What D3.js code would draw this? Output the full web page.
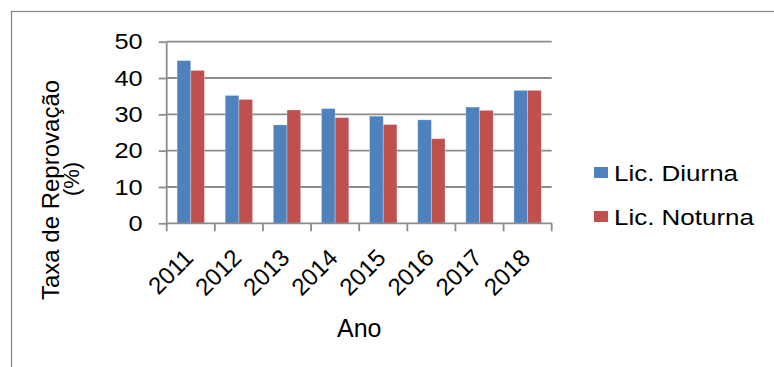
<!DOCTYPE html>
<html>
<head>
<meta charset="utf-8">
<script src="https://cdn.jsdelivr.net/npm/d3@7/dist/d3.min.js"></script>
<style>
  body { margin: 0; background: #fff; }
  svg { display: block; font-family: "Liberation Sans", Arial, sans-serif; }
</style>
</head>
<body>
<svg id="chart" width="774" height="367"></svg>
<script>
// data
const years = ["2011", "2012", "2013", "2014", "2015", "2016", "2017", "2018"];
const diurna = [44.8, 35.2, 27.1, 31.6, 29.5, 28.5, 32.0, 36.6];
const noturna = [42.1, 34.1, 31.2, 29.1, 27.2, 23.3, 31.1, 36.6];
const seriesNames = ["Lic. Diurna", "Lic. Noturna"];
const seriesColors = ["#4f81bd", "#c0504d"];
const yTicks = [0, 10, 20, 30, 40, 50];

const svg = d3.select("#chart");
const gridColor = "#8c8c8c";
const sx = 1.18; // text in the reference looks a bit wide

// outer frame (runs off the right and bottom edge)
svg.append("rect")
  .attr("x", 11.5).attr("y", 11.5)
  .attr("width", 900).attr("height", 500)
  .attr("fill", "none")
  .attr("stroke", "#8a8a8a")
  .attr("stroke-width", 1.3);

const plotLeft = 166.7, plotRight = 551.7, plotTop = 41.7, plotBottom = 223.3;

const x0 = d3.scaleBand().domain(years).range([plotLeft, plotRight]).padding(0);
const x1 = d3.scaleBand().domain(seriesNames).range([0, x0.bandwidth()])
  .paddingInner(0).paddingOuter(0.76);
const y = d3.scaleLinear().domain([0, 50]).range([plotBottom, plotTop]);

// gridlines
svg.append("g")
  .selectAll("line")
  .data(yTicks.filter((d) => d > 0))
  .enter()
  .append("line")
  .attr("x1", plotLeft).attr("x2", plotRight)
  .attr("y1", (d) => y(d)).attr("y2", (d) => y(d))
  .attr("stroke", gridColor)
  .attr("stroke-width", 1.8);

// bars
const rows = years.map((yr, i) => ({ year: yr, values: [diurna[i], noturna[i]] }));
svg.append("g")
  .selectAll("g")
  .data(rows)
  .enter()
  .append("g")
  .attr("transform", (d) => `translate(${x0(d.year)},0)`)
  .selectAll("rect")
  .data((d) => d.values.map((v, k) => ({ key: seriesNames[k], value: v, k })))
  .enter()
  .append("rect")
  .attr("x", (d) => x1(d.key))
  .attr("width", x1.bandwidth())
  .attr("y", (d) => y(d.value))
  .attr("height", (d) => plotBottom - y(d.value))
  .attr("fill", (d) => seriesColors[d.k])
  .attr("stroke", "rgba(255,255,255,0.35)")
  .attr("stroke-width", 0.8);

// y axis
const yAxisG = svg.append("g").attr("transform", `translate(${plotLeft},0)`);
yAxisG.call(d3.axisLeft(y).tickValues(yTicks).tickSize(8).tickFormat(""));
yAxisG.selectAll("line, path").attr("stroke", gridColor).attr("stroke-width", 1.8);
yAxisG.select(".domain").attr("d", `M0,${plotTop}V${plotBottom}`);

yAxisG.selectAll(".ylab")
  .data(yTicks)
  .enter()
  .append("text")
  .attr("class", "ylab")
  .attr("transform", (d) => `translate(-24,${y(d)}) scale(${sx},1)`)
  .attr("text-anchor", "end")
  .attr("dy", "0.36em")
  .attr("font-size", 21.5)
  .attr("fill", "#000")
  .text((d) => d);

// x axis
const xAxisG = svg.append("g").attr("transform", `translate(0,${plotBottom})`);
xAxisG.append("line")
  .attr("x1", plotLeft).attr("x2", plotRight)
  .attr("stroke", gridColor).attr("stroke-width", 1.8);
xAxisG.selectAll(".xtick")
  .data(years.concat(["end"]))
  .enter()
  .append("line")
  .attr("class", "xtick")
  .attr("x1", (d) => (d === "end" ? plotRight : x0(d)))
  .attr("x2", (d) => (d === "end" ? plotRight : x0(d)))
  .attr("y1", 0).attr("y2", 8)
  .attr("stroke", gridColor).attr("stroke-width", 1.8);

xAxisG.selectAll(".xlab")
  .data(years)
  .enter()
  .append("text")
  .attr("class", "xlab")
  .attr("transform", (d) => `translate(${x0(d) + x0.bandwidth() / 2 + 4},36) rotate(-45)`)
  .attr("text-anchor", "end")
  .attr("font-size", 24)
  .attr("fill", "#000")
  .text((d) => d);

// axis titles
svg.append("text")
  .attr("x", (plotLeft + plotRight) / 2)
  .attr("y", 336.5)
  .attr("text-anchor", "middle")
  .attr("font-size", 25)
  .attr("fill", "#000")
  .text("Ano");

svg.append("text")
  .attr("transform", "translate(59,190) rotate(-90)")
  .attr("text-anchor", "middle")
  .attr("font-size", 24)
  .attr("fill", "#000")
  .text("Taxa de Reprovação");

svg.append("text")
  .attr("transform", "translate(79,179) rotate(-90)")
  .attr("text-anchor", "middle")
  .attr("font-size", 22)
  .attr("fill", "#000")
  .text("(%)");

// legend
const legend = svg.append("g")
  .selectAll("g")
  .data(seriesNames)
  .enter()
  .append("g")
  .attr("transform", (d, i) => `translate(594,${181 + i * 44})`);

legend.append("rect")
  .attr("x", 0).attr("y", -14)
  .attr("width", 14).attr("height", 11)
  .attr("fill", (d, i) => seriesColors[i]);

legend.append("text")
  .attr("transform", `translate(20,0) scale(${sx},1)`)
  .attr("font-size", 22)
  .attr("fill", "#000")
  .text((d) => d);
</script>
</body>
</html>
